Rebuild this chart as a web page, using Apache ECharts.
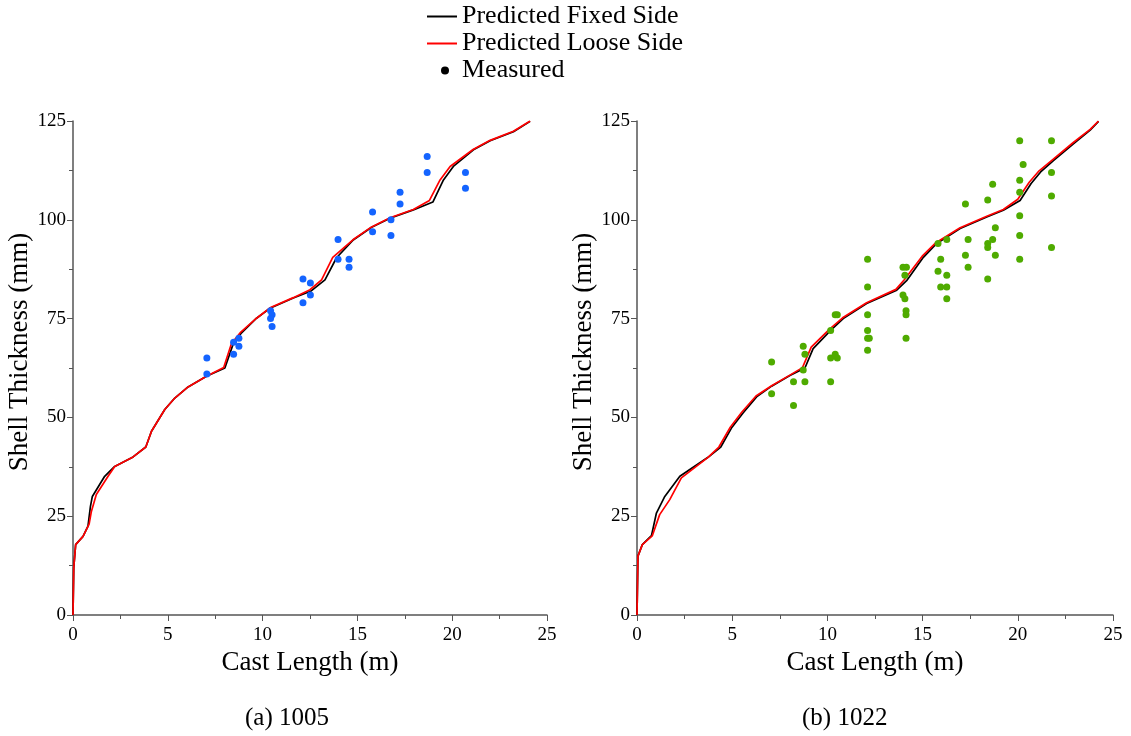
<!DOCTYPE html>
<html>
<head>
<meta charset="utf-8">
<script src="https://cdn.jsdelivr.net/npm/echarts@6/dist/echarts.min.js"></script>
<style>
  html, body { margin: 0; padding: 0; background: #fff; }
  #chart { width: 1131px; height: 736px; }
</style>
</head>
<body>
<div id="chart"></div>
<script>
// cast length (m), shell thickness (mm)
const fixedLeft = [[0,0],[0.04,12],[0.14,17.8],[0.53,19.9],[0.79,22.5],[0.92,27.5],[1.02,30],[1.67,35.1],[2.2,37.6],[3.17,40],[3.84,42.5],[4.14,46.5],[4.84,52],[5.37,54.9],[6.07,57.7],[7.04,60.4],[8.01,62.5],[8.45,68.6],[8.89,71.4],[9.68,75.1],[10.42,77.7],[11.62,80.2],[12.53,81.9],[13.29,84.8],[13.9,90.4],[14.78,94.9],[15.75,98.1],[16.72,100.4],[17.95,102.5],[18.98,104.5],[19.54,110.1],[20.06,113.5],[21.12,117.7],[22,120],[23.23,122.3],[24.11,124.9]];
const looseLeft = [[0,0],[0.04,12],[0.14,17.8],[0.53,19.9],[0.85,23],[0.97,26.2],[1.23,30.5],[1.85,35.1],[2.2,37.6],[3.17,40],[3.84,42.5],[4.14,46.5],[4.84,52],[5.37,54.9],[6.07,57.7],[7.04,60.4],[7.95,62.6],[8.35,68.6],[8.85,71.6],[9.68,75.1],[10.42,77.8],[11.62,80.3],[12.5,82.3],[13.11,84.8],[13.7,90.5],[14.78,95],[15.75,98.2],[16.72,100.5],[17.95,102.6],[18.8,104.9],[19.36,110.1],[19.89,113.5],[21.1,117.8],[22,120.1],[23.23,122.4],[24.11,125]];
const measuredLeft = [[7.06,65],[7.06,61],[8.47,69],[8.75,70],[8.75,68],[8.47,66],[10.42,77],[10.5,76],[10.42,75],[10.5,73],[12.13,85],[12.13,79],[12.52,84],[12.52,81],[13.98,95],[13.98,90],[14.56,90],[14.56,88],[15.8,102],[15.8,97],[16.77,100],[16.77,96],[17.25,107],[17.25,104],[18.68,116],[18.68,112],[20.7,112],[20.7,108]];

const fixedRight = [[0,0],[0.05,14.9],[0.28,17.8],[0.76,20.1],[1.02,25.8],[1.46,30],[2.25,35.1],[3.73,39.9],[4.4,42.5],[4.96,47.3],[5.57,51.1],[6.28,55.2],[7.07,57.9],[8.03,60.6],[8.82,62.5],[9.25,67.4],[10.17,72],[10.83,75],[12.06,78.8],[13.64,82.2],[14.16,84.6],[15.04,90.5],[15.74,94],[16.97,97.8],[18.37,100.7],[19.24,102.4],[20.12,104.9],[20.7,109.2],[21.2,112.1],[21.87,115],[22.92,119.2],[23.8,122.7],[24.24,124.9]];
const looseRight = [[0,0],[0.05,14.9],[0.28,17.8],[0.8,20],[1.19,25.4],[1.72,29.2],[2.33,34.7],[3.73,39.9],[4.3,42.5],[4.9,47.5],[5.5,51.3],[6.25,55.4],[7.07,58],[8.03,60.7],[8.69,62.6],[9.15,67.8],[10.1,72.3],[10.8,75.2],[12.06,79],[13.6,82.4],[14.05,84.9],[14.98,90.8],[15.7,94.2],[16.97,98],[18.37,100.9],[19.24,102.6],[20,105.2],[20.6,109.5],[21.12,112.4],[21.85,115.3],[22.9,119.5],[23.8,122.9],[24.24,125]];
const measuredRight = [[7.07,64],[7.07,56],[8.22,59],[8.22,53],[8.73,68],[8.73,62],[8.82,66],[8.82,59],[10.17,72],[10.17,65],[10.17,59],[10.41,76],[10.41,66],[10.52,76],[10.52,65],[12.11,90],[12.11,83],[12.11,76],[12.11,72],[12.11,70],[12.11,67],[12.2,70],[13.97,88],[13.97,81],[14.07,86],[14.07,80],[14.13,77],[14.13,76],[14.13,70],[14.15,88],[15.81,94],[15.81,87],[15.95,90],[15.95,83],[16.27,95],[16.27,86],[16.27,83],[16.27,80],[17.25,104],[17.25,91],[17.39,95],[17.39,88],[18.42,105],[18.42,94],[18.42,93],[18.42,85],[18.68,109],[18.68,95],[18.82,98],[18.82,91],[20.1,120],[20.1,110],[20.1,107],[20.1,101],[20.1,96],[20.1,90],[20.28,114],[21.77,120],[21.77,112],[21.77,106],[21.77,93]];

const captions = ['(a) 1005', '(b) 1022'];

const font = 'Liberation Serif';
const axisColor = '#555';

const makeX = (gridIndex) => ({
  gridIndex,
  type: 'value',
  min: 0,
  max: 25,
  interval: 5,
  name: 'Cast Length (m)',
  nameLocation: 'middle',
  nameGap: 33,
  nameTextStyle: { fontFamily: font, fontSize: 27, color: '#000' },
  axisLine: { onZero: false, lineStyle: { color: axisColor, width: 1.5 } },
  axisTick: { length: 6, lineStyle: { color: axisColor } },
  minorTick: { show: true, splitNumber: 2, length: 4, lineStyle: { color: axisColor } },
  axisLabel: { margin: 11, fontFamily: font, fontSize: 19, color: '#000' },
  splitLine: { show: false }
});

const makeY = (gridIndex) => ({
  gridIndex,
  type: 'value',
  min: 0,
  max: 125,
  interval: 25,
  name: 'Shell Thickness (mm)',
  nameLocation: 'middle',
  nameGap: 37,
  nameTextStyle: { fontFamily: font, fontSize: 27, color: '#000', padding: [0, 0, 0, 32] },
  axisLine: { show: true, onZero: false, lineStyle: { color: axisColor, width: 1.5 } },
  axisTick: { show: true, length: 6, lineStyle: { color: axisColor } },
  minorTick: { show: true, splitNumber: 2, length: 4, lineStyle: { color: axisColor } },
  axisLabel: { margin: 7, fontFamily: font, fontSize: 19, color: '#000' },
  splitLine: { show: false }
});

const lineSeries = (name, data, color, idx) => ({
  name,
  type: 'line',
  xAxisIndex: idx,
  yAxisIndex: idx,
  data,
  showSymbol: false,
  symbol: 'none',
  lineStyle: { color, width: 1.7 },
  itemStyle: { color },
  z: color === '#ff0000' ? 3 : 2
});

const scatterSeries = (data, color, idx) => ({
  name: 'Measured',
  type: 'scatter',
  xAxisIndex: idx,
  yAxisIndex: idx,
  data,
  symbolSize: 7,
  itemStyle: { color, opacity: 1 },
  z: 4
});

const chart = echarts.init(document.getElementById('chart'));
chart.setOption({
  animation: false,
  backgroundColor: '#fff',
  grid: [
    { left: 73, top: 121, width: 474, height: 494 },
    { left: 637, top: 121, width: 476, height: 494 }
  ],
  xAxis: [makeX(0), makeX(1)],
  yAxis: [makeY(0), makeY(1)],
  legend: [
    {
      orient: 'vertical',
      left: 427,
      top: 3,
      padding: 0,
      itemWidth: 30,
      itemHeight: 2,
      itemGap: 0,
      selectedMode: false,
      data: [
        { name: 'Predicted Fixed Side', icon: 'rect', itemStyle: { color: '#000000' } },
        { name: 'Predicted Loose Side', icon: 'rect', itemStyle: { color: '#ff0000' } }
      ],
      textStyle: { fontFamily: font, fontSize: 26, color: '#000', lineHeight: 27 }
    },
    {
      orient: 'vertical',
      left: 441,
      top: 57,
      padding: 0,
      itemWidth: 8,
      itemHeight: 8,
      selectedMode: false,
      data: [{ name: 'Measured', icon: 'circle', itemStyle: { color: '#000' } }],
      textStyle: { fontFamily: font, fontSize: 26, color: '#000', lineHeight: 27, padding: [0, 0, 0, 8] }
    }
  ],
  graphic: [
    { type: 'text', left: 245, top: 706, style: { text: captions[0], font: '25px "Liberation Serif"', fill: '#000' } },
    { type: 'text', left: 802, top: 706, style: { text: captions[1], font: '25px "Liberation Serif"', fill: '#000' } }
  ],
  series: [
    lineSeries('Predicted Fixed Side', fixedLeft, '#000000', 0),
    lineSeries('Predicted Loose Side', looseLeft, '#ff0000', 0),
    scatterSeries(measuredLeft, '#1464ff', 0),
    lineSeries('Predicted Fixed Side', fixedRight, '#000000', 1),
    lineSeries('Predicted Loose Side', looseRight, '#ff0000', 1),
    scatterSeries(measuredRight, '#4fab00', 1)
  ]
});
</script>
</body>
</html>
